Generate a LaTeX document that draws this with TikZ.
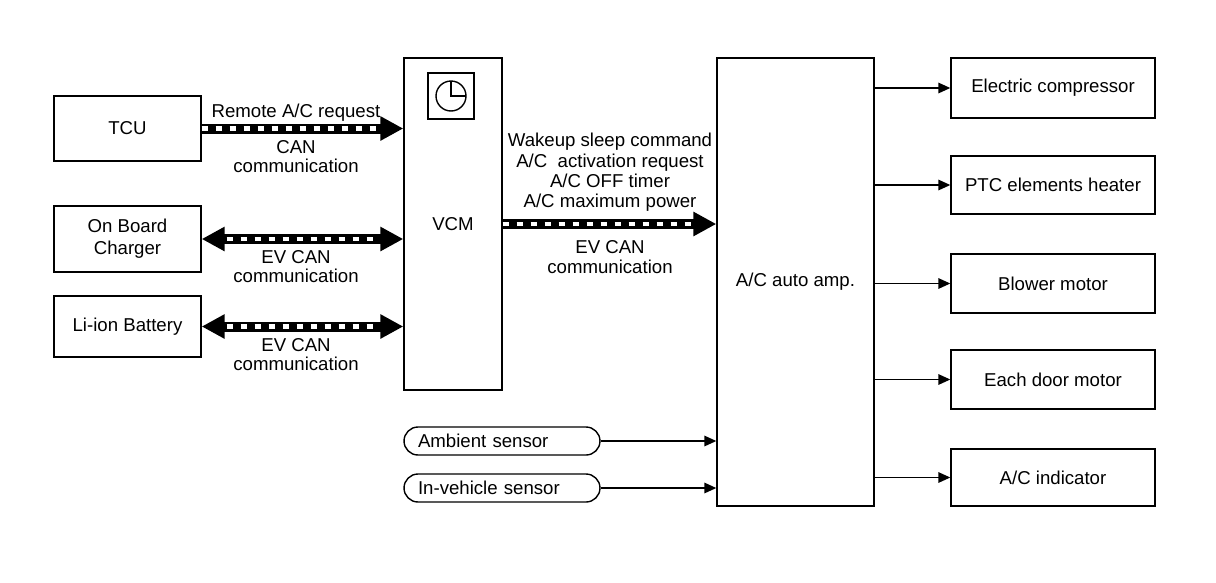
\documentclass[tikz,border=0pt]{standalone}
\usepackage{fontspec}
\setmainfont{Liberation Sans}
\usetikzlibrary{arrows.meta}

\begin{document}
\begin{tikzpicture}[x=0.02cm,y=-0.02cm,
      every node/.style={font=\fontsize{10.6}{11.1}\selectfont},
      blk/.style={draw,line width=0.8pt,inner sep=0pt,align=center},
      sensor/.style={draw,line width=0.8pt,rounded corners=0.28cm,minimum height=0.56cm,
        text width=3.36cm,inner xsep=0.28cm,inner ysep=0pt,align=left},
      sig/.style={line width=0.9pt,-{Triangle[length=0.24cm,width=0.21cm]}},
      canbus/.style={line width=0.2cm,-{Triangle[length=0.46cm,width=0.46cm]},
        postaction={draw=white,-,line width=0.09cm,dash pattern=on 0.12cm off 0.16cm,shorten >=0.5cm}},
      canboth/.style={line width=0.2cm,{Triangle[length=0.46cm,width=0.46cm]}-{Triangle[length=0.46cm,width=0.46cm]},
        postaction={draw=white,-,line width=0.09cm,dash pattern=on 0.12cm off 0.16cm,shorten >=0.5cm,shorten <=0.5cm}}]
    \useasboundingbox (0,0) rectangle (1216,582);
    % left units
    \node[blk,minimum width=2.94cm,minimum height=1.3cm] (tcu) at (127.5,128.5) {TCU};
    \node[blk,minimum width=2.94cm,minimum height=1.32cm,font=\fontsize{10.6}{12.4}\selectfont] (obc) at (127.5,239) {On Board\\Charger};
    \node[blk,minimum width=2.94cm,minimum height=1.22cm] (bat) at (127.5,326.5) {Li-ion Battery};
    % VCM with timer
    \node[blk,minimum width=1.96cm,minimum height=6.64cm] (vcm) at (453,224) {VCM};
    \node[blk,minimum size=0.92cm] (clk) at (451,96) {};
    \draw[line width=0.8pt] (clk.center) circle (0.3cm);
    \draw[line width=0.8pt] (clk.center) ++(0,-15) -- (clk.center) -- ++(15,0);
    % A/C auto amp and outputs
    \node[blk,minimum width=3.14cm,minimum height=8.96cm] (amp) at (795.5,282) {A/C auto amp.};
    \node[blk,minimum width=4.08cm,minimum height=1.2cm] (comp) at (1053,88) {Electric compressor};
    \node[blk,minimum width=4.08cm,minimum height=1.16cm] (ptc) at (1053,185) {PTC elements heater};
    \node[blk,minimum width=4.08cm,minimum height=1.18cm] (blow) at (1053,283.5) {Blower motor};
    \node[blk,minimum width=4.08cm,minimum height=1.18cm] (door) at (1053,379.5) {Each door motor};
    \node[blk,minimum width=4.08cm,minimum height=1.14cm] (ind) at (1053,477.5) {A/C indicator};
    % sensors
    \node[sensor] (amb) at (502,441) {Ambient sensor};
    \node[sensor] (inv) at (502,488) {In-vehicle sensor};

    \draw[canbus] (tcu.east) -- (vcm.west |- tcu.east);
    \draw[canboth] (obc.east) -- (vcm.west |- obc.east);
    \draw[canboth] (bat.east) -- (vcm.west |- bat.east);
    \draw[canbus] (vcm.east) -- (amp.west |- vcm.east);
    \node (ltcu) at (296,113) {Remote A/C request};
    \node[align=center] (ltcu2) at (296,156.5) {CAN\\communication};
    \node[align=center] (lobc) at (296,266.5) {EV CAN\\communication};
    \node[align=center] (lbat) at (296,354.5) {EV CAN\\communication};
    \node[align=center,font=\fontsize{10.6}{11.6}\selectfont] (lcmd) at (610,172.5) {Wakeup sleep command\\A/C\ \ activation request\\A/C OFF timer\\A/C maximum power};
    \node[align=center] (lcmd2) at (610,257) {EV CAN\\communication};

    \draw[sig] (amb.east) -- (amp.west |- amb.east);
    \draw[sig] (inv.east) -- (amp.west |- inv.east);
    \foreach \n in {comp,ptc,blow,door,ind}
      \draw[sig] (amp.east |- \n.west) -- (\n.west);
  \end{tikzpicture}
\end{document}
